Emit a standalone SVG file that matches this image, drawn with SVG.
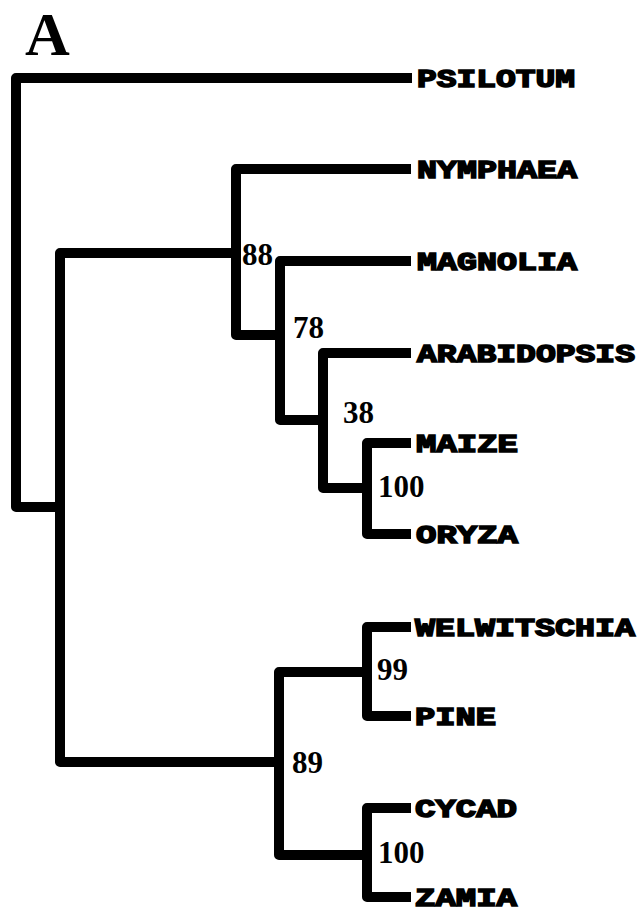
<svg xmlns="http://www.w3.org/2000/svg" width="638" height="919" viewBox="0 0 638 919">
<style>
.br{fill:none;stroke:#000;stroke-width:10;stroke-linejoin:round;stroke-linecap:butt}
.tx{font-family:"Liberation Mono","DejaVu Sans Mono",monospace;font-weight:bold;font-size:26px;fill:#000;stroke:#000;stroke-width:1.6}
.bs{font-family:"Liberation Serif","Times New Roman",serif;font-weight:bold;font-size:31px;fill:#000}
.ttl{font-family:"Liberation Serif","Times New Roman",serif;font-weight:bold;font-size:62px;fill:#000}
</style>
<rect width="638" height="919" fill="#fff"/>
<text class="ttl" x="25" y="55">A</text>
<g id="connectors">
<path class="br" d="M412 78 H16 V507 H60"/>
<path class="br" d="M236 253 H60 V762 H279"/>
<path class="br" d="M411 169 H236 V335 H280"/>
<path class="br" d="M411 261 H280 V420 H323"/>
<path class="br" d="M411 353 H323 V488 H367"/>
<path class="br" d="M411 443 H367 V534 H411"/>
<path class="br" d="M367 672 H279 V855 H367"/>
<path class="br" d="M411 627 H367 V716 H411"/>
<path class="br" d="M411 808 H367 V897 H411"/>
</g>
<g id="psilotum"><text class="tx" x="417" y="87" textLength="158" lengthAdjust="spacingAndGlyphs">PSILOTUM</text></g>
<g id="nymphaea"><text class="tx" x="417" y="178" textLength="160" lengthAdjust="spacingAndGlyphs">NYMPHAEA</text></g>
<g id="magnolia"><text class="tx" x="417" y="270" textLength="160" lengthAdjust="spacingAndGlyphs">MAGNOLIA</text></g>
<g id="arabidopsis"><text class="tx" x="417" y="362" textLength="218" lengthAdjust="spacingAndGlyphs">ARABIDOPSIS</text></g>
<g id="maize"><text class="tx" x="416" y="452" textLength="102" lengthAdjust="spacingAndGlyphs">MAIZE</text></g>
<g id="oryza"><text class="tx" x="416" y="543" textLength="102" lengthAdjust="spacingAndGlyphs">ORYZA</text></g>
<g id="welwitschia"><text class="tx" x="415" y="636" textLength="220" lengthAdjust="spacingAndGlyphs">WELWITSCHIA</text></g>
<g id="pine"><text class="tx" x="415" y="725" textLength="81" lengthAdjust="spacingAndGlyphs">PINE</text></g>
<g id="cycad"><text class="tx" x="415" y="817" textLength="102" lengthAdjust="spacingAndGlyphs">CYCAD</text></g>
<g id="zamia"><text class="tx" x="415" y="906" textLength="102" lengthAdjust="spacingAndGlyphs">ZAMIA</text></g>
<g id="n88"><text class="bs" x="242" y="265">88</text></g>
<g id="n78"><text class="bs" x="293" y="338">78</text></g>
<g id="n38"><text class="bs" x="343" y="423">38</text></g>
<g id="n100a"><text class="bs" x="378" y="497">100</text></g>
<g id="n99"><text class="bs" x="377" y="680">99</text></g>
<g id="n89"><text class="bs" x="292" y="773">89</text></g>
<g id="n100b"><text class="bs" x="378" y="863">100</text></g>
</svg>
